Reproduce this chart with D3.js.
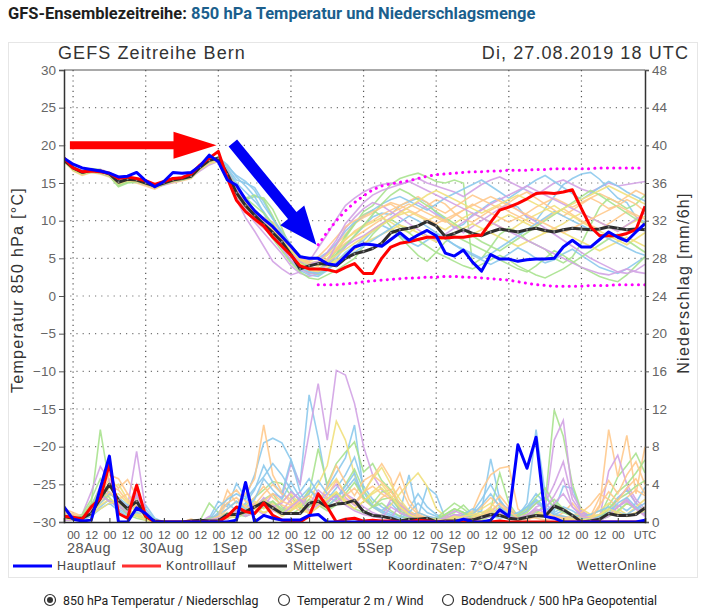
<!DOCTYPE html>
<html><head><meta charset="utf-8">
<script src="https://cdn.jsdelivr.net/npm/d3@7"></script>
<style>
body{margin:0;background:#fff;}
svg text{font-family:"Liberation Sans",Arial,sans-serif;}
</style>
</head><body>
<svg id="c" width="709" height="616"></svg>
<script>
// ---------------- DATA ----------------
const runStart = Date.UTC(2019,7,27,18); // 27.08.2019 18 UTC, 6-hourly steps
const tempTicks = [-30,-25,-20,-15,-10,-5,0,5,10,15,20,25,30];
const tempTickLabels = ["\u221230","\u221225","\u221220","\u221215","\u221210","\u22125","0","5","10","15","20","25","30"];
const precipTicks = [0,4,8,12,16,20,24,28,32,36,40,44,48];
const dateLabels = ["28Aug","30Aug","1Sep","3Sep","5Sep","7Sep","9Sep"];
const dateLabelDays = [[2019,7,28],[2019,7,30],[2019,8,1],[2019,8,3],[2019,8,5],[2019,8,7],[2019,8,9]];
const gridDays = [[2019,7,28],[2019,7,30],[2019,8,1],[2019,8,3],[2019,8,5],[2019,8,7],[2019,8,9],[2019,8,11]];

const tempMain = [18.3,17.5,17.0,16.8,16.6,16.3,15.8,15.9,16.4,15.3,
 14.5,15.2,16.4,16.3,16.4,17.3,18.7,17.8,15.4,14.7,
 12.8,11.3,10.2,9.2,7.9,6.6,5.2,5.0,5.0,4.3,
 4.1,5.3,6.5,6.9,6.8,6.6,7.5,8.4,7.4,8.1,
 8.7,8.0,5.7,5.3,6.1,4.5,3.3,5.5,4.9,4.9,
 4.6,4.8,4.9,4.9,5.0,6.5,7.4,6.5,6.5,7.5,
 8.5,7.8,7.3,8.5,9.6];
const tempCtrl = [18.3,17.0,16.5,16.6,16.5,16.3,15.6,15.8,15.6,15.3,
 14.8,15.2,15.6,15.7,16.2,17.4,18.3,19.2,15.6,12.7,
 11.2,10.2,9.3,7.8,6.6,5.4,4.0,3.6,3.6,3.5,
 3.2,3.8,4.3,3.0,3.0,5.0,6.5,7.0,7.2,7.5,
 7.8,7.8,7.7,7.8,7.8,8.0,8.1,9.8,11.4,11.8,
 12.3,12.9,13.6,13.7,13.6,13.8,14.1,11.6,9.2,8.0,
 8.0,8.0,8.3,8.8,11.9];
const tempMean = [18.0,17.0,16.4,16.7,16.6,16.2,15.1,15.5,15.4,15.0,
 14.6,15.0,15.4,15.6,15.9,17.1,18.0,18.3,16.2,13.7,
 12.0,10.7,9.5,8.4,7.2,5.5,3.6,4.0,4.3,4.2,
 4.0,5.0,5.6,5.9,6.3,7.0,8.4,8.8,9.0,9.3,
 9.9,9.3,7.9,8.3,8.8,8.3,8.0,8.5,8.9,8.7,
 8.5,8.8,9.0,8.7,8.5,8.8,9.0,8.9,8.8,8.9,
 9.2,9.0,8.8,8.9,8.8];

// climatological band (from step 28 on)
const bandStart = 28;
const bandUpper = [6.8,8.5,10.0,11.3,12.4,13.3,14.1,14.6,14.9,15.1,
 15.3,15.6,15.9,16.1,16.2,16.3,16.4,16.5,16.5,16.6,
 16.6,16.7,16.7,16.7,16.8,16.8,16.9,16.9,16.9,16.9,
 16.9,17.0,17.0,17.0,17.0,17.0,17.0];
const bandLower = [1.5,1.5,1.5,1.6,1.7,1.9,2.0,2.1,2.2,2.3,
 2.4,2.4,2.5,2.5,2.6,2.6,2.5,2.5,2.4,2.3,
 2.2,2.1,1.9,1.7,1.5,1.4,1.3,1.3,1.3,1.3,
 1.4,1.4,1.4,1.5,1.5,1.5,1.5];

const memberColors = ["#8cc9ec","#a9e28e","#ffc98c","#d1a2e4","#f1e07c"];

const tempMembers = [
 [18.2,17.2,16.6,16.5,16.4,16.0,15.3,15.6,15.2,14.8,14.8,15.2,15.6,15.8,16.2,17.4,18.2,18.0,
  17.0,15.4,15.0,14.4,12.5,10.3,8.6,6.8,5.2,4.0,3.5,4.2,5.0,
  6.5,8.0,9.2,10.5,11.0,10.8,12.0,12.5,13.0,12.4,11.0,10.2,9.0,9.5,10.8,11.5,12.4,13.0,12.2,11.8,10.4,10.0,11.6,13.2,14.8,15.6,16.2,16.4,15.5,14.2,13.0,12.4,10.5,9.8],
 [17.9,16.8,16.2,16.9,16.8,16.3,14.7,15.2,15.3,15.1,14.3,14.8,15.2,15.5,15.7,16.8,17.8,18.5,
  16.8,14.6,12.8,13.2,13.0,11.5,9.0,6.2,4.5,3.2,2.8,3.5,5.5,
  7.8,9.5,11.2,12.0,13.4,14.8,15.6,16.0,16.3,15.8,15.2,15.0,15.4,15.0,4.2,5.0,6.5,8.2,9.0,8.5,7.4,6.8,6.2,5.0,4.4,5.2,7.0,9.4,11.8,13.0,12.4,11.6,12.2,13.4],
 [18.0,16.6,16.0,16.4,16.2,15.8,14.8,15.2,15.0,14.6,14.2,14.8,15.0,15.3,15.6,16.8,17.6,18.0,
  15.8,13.0,11.2,10.0,9.0,8.0,6.8,5.4,4.2,3.8,4.4,5.6,6.8,
  8.2,9.6,10.4,11.0,11.8,12.2,11.4,10.6,11.2,12.0,12.8,12.2,11.0,10.2,9.8,10.6,11.4,12.0,11.2,10.6,10.0,9.4,10.2,11.0,11.6,10.8,10.0,9.4,8.8,9.6,10.4,11.2,10.6,9.4],
 [18.1,16.9,16.3,16.6,16.8,16.4,15.0,15.3,15.1,14.9,14.5,14.7,15.1,15.4,15.8,16.6,17.4,17.9,
  15.6,12.8,10.4,8.6,6.6,4.6,3.6,2.8,3.2,4.6,6.4,8.2,10.2,
  12.0,13.0,13.8,14.4,14.8,15.0,14.8,15.2,15.6,15.0,14.6,14.2,13.8,13.2,14.0,14.8,15.4,15.8,15.2,14.6,14.0,13.4,14.2,15.0,15.4,14.8,14.2,13.8,14.4,15.0,14.6,14.8,15.0,15.2],
 [17.8,16.7,16.1,16.5,16.5,16.0,14.9,15.4,15.5,15.2,14.7,15.1,15.3,15.5,15.8,17.0,17.8,18.2,
  16.0,13.4,11.6,10.4,9.4,8.2,7.0,5.8,4.6,3.6,3.4,4.0,4.8,
  5.6,6.4,7.8,8.8,9.6,10.2,10.8,11.2,10.6,10.0,9.4,8.8,9.6,10.4,11.0,10.4,9.8,9.2,8.6,9.4,10.2,10.8,11.4,12.0,11.2,10.6,9.8,9.2,8.6,8.0,7.4,6.8,7.6,8.4],
 [18.3,17.1,16.5,16.8,16.7,16.1,15.2,15.7,15.5,15.1,14.6,15.1,15.5,15.7,16.0,17.2,18.1,18.4,
  17.4,15.8,14.6,13.2,11.0,8.8,6.4,4.6,3.4,2.8,2.6,3.4,4.4,
  5.8,6.6,7.4,8.6,9.4,8.8,8.0,7.2,6.6,7.4,8.2,7.6,6.8,6.0,5.4,4.8,4.2,4.8,5.6,6.4,5.8,5.0,4.4,4.8,5.6,6.2,5.4,4.6,3.8,3.4,3.0,3.6,4.4,5.2],
 [18.0,16.9,16.3,16.5,16.3,15.9,14.5,15.0,15.1,14.8,14.4,14.9,15.2,15.4,15.7,16.9,17.8,18.1,
  16.4,14.0,13.0,13.4,12.8,10.6,8.0,5.6,3.8,3.0,3.2,4.4,6.0,
  8.0,9.6,10.8,11.4,10.6,9.2,7.8,6.6,5.4,4.6,5.8,7.2,8.0,7.4,6.8,6.2,5.6,4.8,4.2,3.6,3.2,4.0,5.0,6.0,5.4,4.6,3.8,3.2,2.6,2.2,1.9,2.8,4.0,5.2],
 [17.9,16.8,16.4,16.6,16.4,16.2,15.0,15.4,15.2,14.9,14.4,14.9,15.3,15.6,15.9,17.0,17.9,18.2,
  16.6,14.2,12.4,11.0,10.4,9.8,8.4,6.6,5.0,4.2,4.0,4.8,6.2,
  7.4,8.6,9.4,10.0,10.8,11.4,12.0,12.6,13.2,12.4,11.6,11.0,11.8,12.6,13.4,12.8,12.2,11.6,12.4,13.2,13.8,13.0,12.2,11.4,10.6,11.4,12.2,13.0,12.4,11.6,12.0,12.8,12.2,11.2],
 [18.2,17.0,16.5,16.7,16.6,16.1,15.1,15.5,15.3,14.8,14.5,15.0,15.4,15.7,16.0,17.1,17.9,18.2,
  16.0,13.2,11.4,9.8,8.4,7.0,5.6,4.0,3.0,2.6,3.0,4.2,5.4,
  6.6,7.4,8.0,8.8,9.6,10.4,11.2,11.8,12.4,11.6,10.8,10.0,9.2,8.4,9.2,10.0,10.8,11.6,12.2,11.4,10.6,9.8,9.0,8.2,7.4,6.6,5.8,5.0,4.4,3.8,3.2,3.0,3.4,4.2],
 [18.1,16.9,16.4,16.6,16.5,16.2,15.0,15.5,15.4,15.0,14.6,15.0,15.4,15.6,15.9,16.9,17.7,18.1,
  16.2,13.6,11.8,10.6,9.6,8.6,7.4,6.0,4.8,4.4,4.6,5.4,6.4,
  7.6,8.4,9.2,9.8,10.4,9.8,9.0,8.4,9.2,10.0,10.6,10.0,9.4,8.8,8.2,8.8,9.4,10.2,10.8,10.2,9.6,9.0,8.4,9.0,9.6,10.4,11.0,10.4,9.8,9.2,8.6,9.4,10.0,10.6],
 [18.4,17.2,16.6,16.7,16.6,16.2,15.2,15.6,15.3,14.9,14.5,15.0,15.5,15.8,16.1,17.3,18.2,18.3,
  17.2,16.0,15.2,14.0,12.0,10.2,8.4,6.6,5.4,4.8,5.0,5.8,7.0,
  8.6,9.8,10.6,11.4,12.2,12.8,13.2,12.6,12.0,11.4,12.2,13.0,13.6,14.2,14.8,15.4,14.6,13.8,13.0,13.8,14.6,15.4,16.0,15.2,14.4,13.6,12.8,13.6,14.4,15.2,14.6,13.8,13.2,12.6],
 [17.9,16.7,16.2,16.4,16.4,16.0,14.6,15.1,15.2,15.0,14.5,14.9,15.2,15.4,15.8,16.8,17.7,18.0,
  16.4,13.8,12.0,10.6,9.2,7.6,6.0,4.4,3.2,2.4,2.2,2.8,3.4,
  4.2,5.0,6.6,8.2,9.4,10.2,9.4,8.4,7.4,6.6,5.8,5.2,4.6,4.0,3.6,4.2,4.8,5.4,4.8,4.0,3.4,2.8,2.4,3.0,3.6,4.4,5.2,6.0,6.8,7.6,8.2,7.4,6.6,5.8],
 [18.1,16.8,16.3,16.5,16.6,16.1,14.9,15.3,15.3,14.9,14.5,15.0,15.3,15.5,15.8,16.9,17.8,18.1,
  16.2,13.6,12.0,10.8,9.8,8.8,7.6,6.4,5.2,4.4,4.2,5.0,6.0,
  7.0,7.8,8.6,9.4,10.2,11.0,11.6,12.2,11.6,11.0,10.4,9.8,10.6,11.4,12.2,11.6,11.0,10.4,9.8,10.4,11.0,11.8,12.4,13.0,12.4,11.8,12.4,13.0,13.6,13.0,12.4,13.2,14.0,13.4],
 [18.0,16.9,16.4,16.6,16.4,16.0,15.0,15.4,15.2,14.8,14.4,14.9,15.2,15.5,15.8,16.9,17.7,18.0,
  16.0,13.4,11.6,10.2,9.0,7.8,6.4,4.8,3.6,3.0,3.2,4.6,6.8,
  9.0,10.4,11.6,12.4,12.0,11.2,10.4,9.6,8.8,8.0,7.4,8.2,9.0,9.8,10.6,11.4,12.2,12.8,13.4,14.0,14.6,14.0,13.4,12.8,12.2,11.6,11.0,10.4,9.8,9.2,8.6,9.4,10.2,11.0],
 [18.0,16.8,16.2,16.6,16.5,16.1,15.0,15.4,15.3,14.9,14.5,15.0,15.3,15.5,15.8,17.0,17.8,18.1,
  16.2,13.8,12.2,11.0,9.8,8.6,7.2,5.6,4.2,3.4,3.2,3.8,4.6,
  5.4,6.2,7.0,7.6,8.2,8.8,9.4,9.0,8.4,7.8,7.2,7.8,8.4,9.0,9.6,9.0,8.4,7.8,7.2,6.6,7.2,7.8,8.4,9.0,8.4,7.8,7.2,6.6,6.0,6.6,7.2,7.8,7.2,6.6],
 [18.2,17.0,16.4,16.6,16.6,16.2,15.1,15.5,15.4,15.0,14.6,15.0,15.4,15.6,15.9,17.2,18.1,18.4,
  16.8,15.0,13.8,12.6,11.2,9.4,7.4,5.4,3.8,3.2,3.0,3.6,4.4,
  5.2,5.8,6.6,7.4,8.2,9.0,9.8,10.6,10.0,9.2,8.4,7.6,6.8,6.2,5.6,5.0,5.6,6.4,7.2,8.0,8.8,9.6,10.4,11.2,10.6,10.0,9.4,8.8,8.2,7.6,7.0,6.4,5.8,5.4],
 [18.0,16.8,16.3,16.7,16.7,16.3,14.8,15.2,15.2,14.9,14.4,14.8,15.2,15.5,15.8,16.9,17.8,18.3,
  16.6,14.4,13.0,12.0,11.0,9.6,7.8,6.0,4.6,3.8,3.6,4.4,5.6,
  6.8,8.0,9.4,10.8,12.2,13.4,14.2,13.6,12.8,12.0,11.2,10.4,9.6,8.8,8.0,7.2,6.6,6.0,6.8,7.6,8.4,9.2,10.0,10.8,11.6,12.4,13.2,14.0,13.4,12.6,11.8,11.0,10.2,9.6],
 [18.1,16.9,16.4,16.6,16.5,16.0,15.1,15.5,15.3,14.9,14.5,15.0,15.4,15.6,15.9,17.0,17.9,18.2,
  16.4,14.0,12.6,11.4,10.2,9.0,7.6,6.2,5.0,4.6,5.2,6.4,7.8,
  9.2,10.0,10.6,11.2,11.8,12.4,12.0,11.4,10.8,10.2,9.6,10.2,10.8,11.4,12.0,12.6,13.2,12.6,12.0,11.4,10.8,10.2,9.6,9.0,8.4,9.0,9.6,10.2,10.8,11.4,12.0,11.4,10.8,10.2],
 [18.2,17.0,16.5,16.8,16.7,16.3,15.2,15.6,15.4,15.0,14.6,15.1,15.4,15.6,16.0,17.1,18.0,18.2,
  16.6,14.2,12.6,11.2,9.8,8.4,7.0,5.6,4.6,4.2,4.6,5.8,7.4,
  9.6,11.0,12.4,13.4,14.0,14.4,14.8,15.2,14.6,14.0,13.4,12.8,12.2,11.6,11.0,10.4,9.8,9.2,8.6,8.0,7.4,6.8,6.2,5.6,5.0,4.4,3.8,3.4,3.0,2.8,3.2,3.6,3.2,3.0],
 [17.9,16.8,16.3,16.5,16.4,16.0,14.9,15.3,15.2,14.8,14.4,14.9,15.2,15.5,15.8,16.8,17.6,17.9,
  16.0,13.4,11.8,10.6,9.6,8.6,7.4,6.0,4.8,4.2,4.0,4.6,5.4,
  6.2,7.0,7.8,8.6,9.4,10.2,11.0,11.8,12.6,13.4,14.0,13.4,12.8,12.2,11.6,11.0,11.6,12.2,12.8,13.4,12.8,12.2,11.6,11.0,11.6,12.2,12.8,13.4,14.0,14.6,14.0,13.4,12.8,12.2]
];

const precipMain = [1.6,0.3,0.1,0.2,3.6,7.0,0,0,1.5,0.9,
 0,0,0,0,0,0,0,0,0,0.2,
 4.2,0,0.7,0.4,0.2,0.2,0.2,0.7,0.8,0,
 0,0,0,0,0,0,0,0,0,0,
 0,0,0,0,0.3,0,0,0.2,1.3,0.6,
 8.2,5.7,9.0,0.6,0.4,0,0,0,0,0,
 0,0,0,0,0.2];
const precipCtrl = [0.6,0.5,0.3,1.6,2.5,6.2,0.9,0.4,3.9,0.6,
 0,0,0,0,0,0,0,0,0.6,1.6,
 1.1,0.9,2.0,0.7,0.2,0,0,0.6,3.0,1.6,
 0,0.3,0.4,0.1,0.2,0.1,0.1,0,0,0.2,
 0.1,0,0,0,0,0,0,0,0.1,0,
 0,0,0,0,0,0,0,0,0,0,
 0,0,0,0,0];
const precipMean = [0.6,0.4,0.4,0.9,2.5,4.0,2.3,1.4,2.2,0.6,
 0.1,0,0,0,0.1,0.2,0.1,0.1,0.8,0.8,
 1.1,1.6,2.1,1.5,0.9,0.9,0.9,2.0,2.2,1.6,
 1.9,2.0,2.3,1.1,0.7,0.6,0.4,0.1,0.3,0.3,
 0.4,0,0.1,0.1,0.2,0.2,0.5,0.8,0.7,0.4,
 0.3,0.5,0.7,0.6,1.7,1.3,0.7,0,0.1,0.3,
 0.9,0.7,0.7,0.8,1.5];

const precipMembers = [
 [1.2,0.6,0.4,1.0,2.4,3.2,2.0,1.2,1.8,1.8, 0.4,0,0,0,0,0,0.4,2.2,1.6,4.1, 2.6,5.0,8.4,8.9,8.4,6.6,4.0,13.5,8.9,3.6, 5.2,6.8,10.3,3.2,1.6,1.2,2.0,1.0,5.0,0.6, 3.7,2.9,0.4,0.2,0.2,0.6,1.2,6.7,2.4,1.0, 0.6,2.0,9.8,3.0,1.2,3.8,3.6,1.0,0.4,0.6, 1.0,1.8,1.2,2.0,3.7],
 [0.8,0.4,0.6,2.0,9.8,4.0,2.2,1.4,2.6,0.8, 0.2,0,0,0,0,0.2,2.0,1.0,0.6,1.2, 1.8,2.6,3.4,4.3,4.1,2.8,1.4,3.0,7.8,4.0, 6.2,7.4,8.5,5.3,6.2,4.4,3.4,2.0,1.0,0.6, 0.4,0.2,0.6,1.0,1.8,0.8,0.6,1.4,5.2,2.0, 0.6,0.4,0.8,2.0,11.9,9.1,4.0,1.2,0.4,0.6, 2.6,4.8,6.0,7.3,5.2],
 [1.4,1.0,0.6,1.8,3.0,4.6,3.6,4.5,2.8,0.6, 0.2,0,0,0,0.3,0,0.2,0.6,3.4,2.0, 3.0,4.6,10.3,5.0,3.2,2.0,1.6,3.4,2.8,2.0, 3.0,2.4,1.8,3.0,4.8,6.2,4.6,0.9,0.6,0.4, 0.2,0,0.2,0.4,0.6,1.2,3.4,5.0,5.7,5.9, 1.4,0.6,0.4,0.2,0.4,1.0,2.0,0.8,0.2,1.6, 9.8,4.8,9.2,3.0,8.0],
 [0.6,0.4,0.8,3.2,5.9,4.4,2.2,1.6,7.5,1.2, 0,0,0,0,0,0,0.6,0.4,1.0,0.8, 1.2,2.0,1.6,3.0,2.6,6.2,4.0,9.4,14.7,8.7, 16.1,15.6,12.6,8.0,5.0,3.4,2.6,2.0,1.2,0.6, 0.4,0.2,0.2,0.6,1.0,0.8,0.4,1.0,2.0,1.4, 0.6,1.2,2.0,1.4,8.7,10.8,3.0,1.2,0.6,0.4, 5.4,7.1,4.0,2.4,1.4],
 [0.8,0.6,0.4,1.2,2.6,3.6,4.0,2.4,1.6,0.6, 0,0,0,0,0,0,0,0.4,0.8,1.4, 1.0,1.8,2.4,1.6,2.2,3.0,1.8,2.4,4.0,6.0, 10.7,8.7,5.0,2.4,1.6,1.0,1.8,3.0,4.2,5.2, 3.8,1.4,0.6,0.4,0.2,0.4,0.6,1.0,0.8,0.6, 0.4,0.8,1.2,0.6,0.4,0.2,0.6,1.4,0.8,0.4, 0.6,1.0,2.0,1.4,0.8],
 [1.0,0.8,0.2,0.8,1.6,2.4,1.4,0.8,1.2,1.0, 0.2,0,0,0,0,0,0.2,1.0,2.0,1.2, 2.0,3.4,6.0,4.2,3.0,6.6,3.2,4.6,3.0,2.4, 3.6,5.0,6.9,3.8,2.4,1.6,1.0,0.6,1.4,3.0, 1.6,0.8,0.4,0.2,0.6,1.0,2.4,4.0,2.2,1.2, 0.8,1.6,3.0,2.0,1.0,1.6,1.2,0.6,0.4,0.8, 1.4,2.6,3.4,2.0,1.2],
 [0.6,0.4,0.8,2.4,4.6,3.0,2.4,1.0,0.6,0.4, 0,0,0,0,0,0,0,0.4,1.0,0.6, 1.4,1.0,2.4,3.0,1.6,1.2,2.0,3.4,2.6,1.8, 2.4,4.0,5.6,3.4,2.0,3.2,3.4,1.6,0.8,0.4, 0.2,0.4,1.2,2.0,1.4,0.6,0.4,0.8,1.6,1.2, 0.8,1.4,2.6,3.6,2.0,1.4,0.8,0.4,0.2,0.6, 1.8,3.2,4.0,5.2,6.6],
 [1.2,0.8,0.6,1.4,3.4,5.0,4.6,3.0,2.0,0.8, 0.2,0,0,0,0,0,0.2,0.8,2.6,3.4, 2.2,1.8,3.0,4.0,3.0,2.4,1.6,1.2,2.0,3.8, 6.0,4.2,2.8,4.4,5.0,4.2,3.2,5.2,2.4,1.0, 0.6,0.4,0.2,0.2,0.4,0.6,0.8,1.6,2.8,1.6, 0.6,0.4,0.8,1.2,0.8,0.6,0.4,0.8,0.6,2.6, 4.4,3.0,5.0,6.4,4.0],
 [0.4,0.2,0.6,1.6,3.8,3.0,2.6,1.4,4.0,1.0, 0,0,0,0,0,0,0.4,0.6,0.4,1.6, 0.8,1.4,2.6,1.8,1.2,2.4,3.2,1.6,2.4,3.0, 4.0,2.6,1.8,1.2,0.8,0.6,2.4,1.4,0.8,0.4, 0.4,0.2,0.6,1.2,0.8,0.4,0.6,0.8,1.4,0.8, 0.4,0.6,1.6,2.0,4.0,6.4,2.4,1.0,0.6,0.4, 1.0,2.4,3.6,2.0,1.0],
 [0.6,0.4,0.6,1.0,2.0,2.8,3.0,2.0,1.0,0.4, 0,0,0,0,0,0,0,0.2,0.6,1.0, 1.6,2.2,1.4,2.0,1.0,1.8,2.6,1.2,2.2,3.4, 4.6,3.0,2.0,3.2,4.6,5.8,4.0,2.4,1.2,0.6, 0.4,0.2,0.4,0.6,0.8,1.0,1.4,2.0,1.2,0.6, 0.4,0.6,0.8,1.0,0.6,0.4,0.2,0.4,0.8,1.2, 2.0,1.4,0.8,1.6,2.4],
 [0.8,0.4,0.4,1.2,2.0,3.0,2.6,1.8,1.4,1.4, 0.2,0,0,0,0,0,0.2,1.6,2.4,3.0, 2.4,3.6,4.8,6.2,5.0,3.4,2.2,3.0,4.4,3.0, 2.6,3.4,4.6,2.6,1.8,1.2,0.8,0.4,0.6,1.0, 0.6,0.4,0.2,0.4,0.8,1.4,1.0,0.6,0.4,0.6, 1.0,1.6,2.2,1.4,0.8,0.6,0.4,0.6,0.8,1.2, 1.6,1.0,0.8,1.4,2.0],
 [0.4,0.2,0.6,1.8,3.6,2.6,1.6,1.2,0.8,0.4, 0,0,0,0,0,0,0.4,0.6,0.4,0.8, 0.6,1.0,1.6,2.2,1.4,1.0,0.8,1.6,2.4,2.0, 3.0,2.2,1.4,1.0,1.6,2.0,1.2,0.6,0.4,0.2, 0.2,0.4,0.8,1.4,1.0,0.6,0.4,0.6,0.8,0.6, 0.4,0.6,1.0,1.6,2.4,1.4,0.8,0.6,0.4,0.2, 0.6,1.2,2.0,1.4,0.8],
 [1.0,0.8,0.4,1.0,2.2,3.2,2.4,3.0,1.6,0.8, 0,0,0,0,0,0,0,0.4,1.4,2.2, 1.6,2.6,3.8,2.6,1.8,1.4,2.2,2.8,2.0,1.4, 2.0,2.8,3.6,2.4,1.6,2.6,3.2,2.0,1.0,0.6, 0.4,0.2,0.2,0.4,0.6,0.8,1.6,2.6,1.8,1.0, 0.6,0.4,0.6,0.8,0.6,0.4,0.6,1.0,1.8,3.0, 2.4,1.6,2.6,3.4,2.8],
 [0.6,0.4,0.4,1.4,3.0,2.2,1.6,1.0,2.8,0.8, 0,0,0,0,0,0,0.2,0.4,0.8,0.6, 1.0,1.4,0.8,1.6,2.0,3.2,2.4,1.8,3.4,2.6, 2.2,3.0,2.4,1.6,1.0,0.6,0.4,1.8,1.0,0.4, 0.2,0.2,0.4,0.8,0.6,0.4,0.4,0.6,1.0,0.6, 0.4,0.8,1.4,1.0,2.0,3.0,1.6,0.8,0.4,0.4, 0.8,1.6,2.2,1.4,0.8],
 [0.4,0.4,0.6,0.8,1.8,2.4,2.0,1.4,0.8,0.4, 0,0,0,0,0,0,0,0.2,0.4,0.8, 1.2,1.6,1.0,1.4,0.8,1.2,1.8,1.0,1.6,2.4, 3.2,2.2,1.4,2.2,3.0,3.6,2.6,1.6,0.8,0.4, 0.2,0.2,0.4,0.6,0.4,0.6,0.8,1.2,0.8,0.4, 0.2,0.4,0.6,0.8,0.4,0.2,0.2,0.4,0.6,0.8, 1.2,0.8,0.6,1.0,1.6],
 [0.6,0.6,0.2,0.6,1.4,2.0,1.2,0.6,1.0,0.8, 0,0,0,0,0,0,0.2,0.8,1.4,2.2, 1.4,2.4,4.6,3.4,2.4,4.2,2.6,3.6,2.2,1.6, 2.6,3.8,5.2,2.6,1.6,1.0,0.6,0.4,1.0,2.0, 1.0,0.6,0.2,0.2,0.4,0.8,1.8,3.0,1.6,0.8, 0.6,1.2,2.4,1.6,0.8,1.2,0.8,0.4,0.2,0.6, 1.0,2.0,2.6,1.6,1.0],
 [0.4,0.4,0.6,1.6,3.2,2.2,1.8,0.8,0.4,0.2, 0,0,0,0,0,0,0,0.2,0.8,0.4, 1.0,0.8,1.8,2.2,1.2,0.8,1.4,2.4,1.8,1.2, 1.8,3.0,4.2,2.6,1.6,2.4,2.6,1.2,0.6,0.2, 0.2,0.2,0.8,1.4,1.0,0.4,0.2,0.6,1.2,0.8, 0.6,1.0,2.0,2.6,1.6,1.0,0.6,0.2,0.2,0.4, 1.4,2.4,3.0,3.8,4.4],
 [1.0,0.6,0.4,1.2,2.6,3.8,3.4,2.2,1.4,0.6, 0,0,0,0,0,0,0.2,0.6,2.0,2.6, 1.6,1.4,2.2,3.0,2.2,1.8,1.2,1.0,1.6,2.8, 4.4,3.0,2.0,3.2,3.8,3.0,2.4,3.8,1.8,0.8, 0.4,0.2,0.2,0.2,0.2,0.4,0.6,1.2,2.0,1.2, 0.4,0.2,0.6,0.8,0.6,0.4,0.2,0.6,0.4,1.8, 3.2,2.2,3.6,4.6,3.0],
 [0.2,0.2,0.4,1.2,2.8,2.2,1.8,1.0,3.0,0.6, 0,0,0,0,0,0,0.2,0.4,0.2,1.2, 0.6,1.0,1.8,1.2,0.8,1.6,2.4,1.2,1.8,2.2, 2.8,1.8,1.2,0.8,0.6,0.4,1.6,1.0,0.6,0.2, 0.2,0.2,0.4,0.8,0.6,0.2,0.4,0.6,1.0,0.6, 0.2,0.4,1.2,1.4,2.8,4.6,1.6,0.6,0.4,0.2, 0.6,1.6,2.4,1.4,0.6],
 [0.4,0.2,0.4,0.8,1.4,2.0,2.2,1.4,0.6,0.2, 0,0,0,0,0,0,0,0.2,0.4,0.6, 1.0,1.4,1.0,1.4,0.6,1.2,1.8,0.8,1.6,2.4, 3.2,2.0,1.4,2.2,3.2,4.0,2.8,1.6,0.8,0.4, 0.2,0.2,0.2,0.4,0.6,0.8,1.0,1.4,0.8,0.4, 0.2,0.4,0.6,0.6,0.4,0.2,0.4,0.2,0.4,0.8, 1.4,1.0,0.6,0.8,1.2]
];

// annotation arrows (in data coordinates: [step index, °C])
const arrowRed = [[0.65,20.0],[16.8,20.0]];
const arrowBlue = [[18.6,20.3],[27.8,6.8]];

// ---------------- CHART ----------------
const svg = d3.select("#c");
const L = 64, R = 645, T = 70, B = 522;
const stepMs = 6*3600*1000;
const times = tempMain.map((d,i)=> new Date(runStart + i*stepMs));
const tAt = k => new Date(runStart + k*stepMs);
const x = d3.scaleUtc().domain([times[0], times[times.length-1]]).range([L,R]);
const yT = d3.scaleLinear().domain([-30,30]).range([B,T]);
const yP = d3.scaleLinear().domain([0,48]).range([B,T]);

// page title
const title = svg.append("text").attr("x",8).attr("y",19).style("font-family","Roboto, sans-serif").style("font-size","16.5px").style("font-weight","700");
title.append("tspan").attr("fill","#1e1e1e").text("GFS-Ensemblezeitreihe:");
title.append("tspan").attr("fill","#1b5f8d").text(" 850 hPa Temperatur und Niederschlagsmenge");

// image frame
svg.append("rect").attr("x",8.5).attr("y",42.5).attr("width",689).attr("height",535).attr("fill","#fff").attr("stroke","#e6e6e6");

svg.append("text").attr("x",58).attr("y",58.5).attr("fill","#333").style("font-size","18px").style("letter-spacing","1.1px").text("GEFS Zeitreihe Bern");
svg.append("text").attr("x",689).attr("y",58.5).attr("text-anchor","end").attr("fill","#333").style("font-size","18px").style("letter-spacing","1.1px").text("Di, 27.08.2019 18 UTC");

// grid
const g = svg.append("g");
g.selectAll(".hg").data(tempTicks.filter(v=>v>-30 && v<30)).join("line")
 .attr("x1",L).attr("x2",R).attr("y1",d=>yT(d)).attr("y2",d=>yT(d))
 .attr("stroke","#777").attr("stroke-width",1.2).attr("stroke-dasharray","1.2,5");
g.selectAll(".vg").data(gridDays).join("line")
 .attr("x1",d=>x(new Date(Date.UTC(d[0],d[1],d[2])))).attr("x2",d=>x(new Date(Date.UTC(d[0],d[1],d[2]))))
 .attr("y1",T).attr("y2",B)
 .attr("stroke","#555").attr("stroke-width",1.2).attr("stroke-dasharray","1.2,4");

// clip
svg.append("clipPath").attr("id","pc").append("rect").attr("x",L).attr("y",T-2).attr("width",R-L).attr("height",B-T+3);
const plot = svg.append("g").attr("clip-path","url(#pc)");

const lineT = d3.line().x((d,i)=>x(times[i])).y(d=>yT(d));
const lineP = d3.line().x((d,i)=>x(times[i])).y(d=>yP(d));

// ensemble members
precipMembers.forEach((m,k)=>{
 plot.append("path").attr("d",lineP(m)).attr("fill","none").attr("stroke",memberColors[k%5]).attr("stroke-width",1.6).attr("opacity",0.9);
});
tempMembers.forEach((m,k)=>{
 plot.append("path").attr("d",lineT(m)).attr("fill","none").attr("stroke",memberColors[k%5]).attr("stroke-width",1.6).attr("opacity",0.9);
});

// climatological band
const lineBand = d3.line().x((d,i)=>x(tAt(bandStart+i))).y(d=>yT(d));
[bandUpper, bandLower].forEach(b=>{
 plot.append("path").attr("d",lineBand(b)).attr("fill","none").attr("stroke","#ff00ff")
  .attr("stroke-width",3).attr("stroke-linecap","round").attr("stroke-dasharray","0.1,6.2");
});

// mean / control / main
function mainLines(arrs, line, yS){
 const [mean, ctrl, mainR] = arrs;
 plot.append("path").attr("d",line(mean)).attr("fill","none").attr("stroke","#2e2e2e").attr("stroke-width",3).attr("stroke-linejoin","round");
 plot.append("g").selectAll("circle").data(mean).join("circle").attr("cx",(d,i)=>x(times[i])).attr("cy",d=>yS(d)).attr("r",1).attr("fill","#8a8a8a");
 plot.append("path").attr("d",line(ctrl)).attr("fill","none").attr("stroke","#ff0000").attr("stroke-width",3).attr("stroke-linejoin","round");
 plot.append("path").attr("d",line(mainR)).attr("fill","none").attr("stroke","#0000ff").attr("stroke-width",3).attr("stroke-linejoin","round");
}
mainLines([precipMean, precipCtrl, precipMain], lineP, yP);
mainLines([tempMean, tempCtrl, tempMain], lineT, yT);

// arrows
function arrowPoly(a, sw, hw, hl){
 const p0=[x(tAt(a[0][0])), yT(a[0][1])], p1=[x(tAt(a[1][0])), yT(a[1][1])];
 const dx=p1[0]-p0[0], dy=p1[1]-p0[1], len=Math.hypot(dx,dy), ux=dx/len, uy=dy/len, nx=-uy, ny=ux;
 const b=[p1[0]-ux*hl, p1[1]-uy*hl];
 const P=(p,s)=>[p[0]+nx*s, p[1]+ny*s];
 return [P(p0,sw/2),P(b,sw/2),P(b,hw/2),p1,P(b,-hw/2),P(b,-sw/2),P(p0,-sw/2)].map(p=>p.join(",")).join(" ");
}
svg.append("polygon").attr("points",arrowPoly(arrowRed,8,27,43)).attr("fill","#ff0000");
svg.append("polygon").attr("points",arrowPoly(arrowBlue,11,31,38)).attr("fill","#0000f5");

// axes frame
svg.append("line").attr("x1",L).attr("x2",R).attr("y1",T).attr("y2",T).attr("stroke","#555").attr("stroke-width",1);
const axL = d3.axisLeft(yT).tickValues(tempTicks).tickFormat((d,i)=>tempTickLabels[i]).tickSize(5).tickPadding(3);
const gl = svg.append("g").attr("transform",`translate(${L},0)`).call(axL);
const axR = d3.axisRight(yP).tickValues(precipTicks).tickSize(4).tickPadding(3);
const gr = svg.append("g").attr("transform",`translate(${R},0)`).call(axR);
[gl,gr].forEach(a=>{
 a.select(".domain").attr("stroke","#333").attr("stroke-width",1.5);
 a.selectAll(".tick line").attr("stroke","#555");
 a.selectAll(".tick text").attr("fill","#666").style("font-size","13.5px").style("font-family","Liberation Sans, Arial, sans-serif");
});

// bottom axis
const hourTicks = d3.utcHour.every(12).range(new Date(Date.UTC(2019,7,28,0)), new Date(Date.UTC(2019,8,12,1)));
const gb = svg.append("g").attr("transform",`translate(0,${B})`)
 .call(d3.axisBottom(x).tickValues(hourTicks).tickFormat(d3.utcFormat("%H")).tickSize(-4).tickPadding(9));
gb.select(".domain").attr("stroke","#222").attr("stroke-width",1.5);
gb.selectAll(".tick line").attr("stroke","#333");
gb.selectAll(".tick text").attr("fill","#555").style("font-size","11.5px").style("font-family","Liberation Sans, Arial, sans-serif");
svg.append("text").attr("x",R).attr("y",B+17).attr("text-anchor","middle").attr("fill","#555").style("font-size","11px").text("UTC");

svg.selectAll(".dl").data(dateLabels).join("text")
 .attr("x",(d,i)=>x(new Date(Date.UTC(...dateLabelDays[i])))-6).attr("y",553)
 .attr("fill","#555").style("font-size","14.5px").style("letter-spacing","0.4px").text(d=>d);

// axis titles
svg.append("text").attr("transform","translate(23,290) rotate(-90)").attr("text-anchor","middle").attr("fill","#333")
 .style("font-size","16px").style("letter-spacing","1.3px").text("Temperatur 850 hPa [°C]");
svg.append("text").attr("transform","translate(689,283) rotate(-90)").attr("text-anchor","middle").attr("fill","#333")
 .style("font-size","16px").style("letter-spacing","1.3px").text("Niederschlag [mm/6h]");

// legend
const legItems = [
 {c:"#0000ff", x1:13, x2:52, tx:57, t:"Hauptlauf"},
 {c:"#ff3030", x1:122, x2:161, tx:166, t:"Kontrolllauf"},
 {c:"#333", x1:248, x2:287, tx:293, t:"Mittelwert"}
];
const lg = svg.append("g");
legItems.forEach(d=>{
 lg.append("line").attr("x1",d.x1).attr("x2",d.x2).attr("y1",566).attr("y2",566).attr("stroke",d.c).attr("stroke-width",3);
 lg.append("text").attr("x",d.tx).attr("y",569.5).attr("fill","#444").style("font-size","12.5px").style("letter-spacing","0.6px").text(d.t);
});
lg.append("text").attr("x",388).attr("y",569.5).attr("fill","#444").style("font-size","12.5px").style("letter-spacing","0.6px").text("Koordinaten: 7°O/47°N");
lg.append("text").attr("x",577).attr("y",569.5).attr("fill","#444").style("font-size","12.5px").style("letter-spacing","0.6px").text("WetterOnline");

// radio buttons
const radios = [
 {cx:50, tx:63, t:"850 hPa Temperatur / Niederschlag", on:true},
 {cx:284, tx:297, t:"Temperatur 2 m / Wind", on:false},
 {cx:448, tx:461, t:"Bodendruck / 500 hPa Geopotential", on:false}
];
radios.forEach(r=>{
 svg.append("circle").attr("cx",r.cx).attr("cy",600).attr("r",5.5).attr("fill","#fff").attr("stroke","#333").attr("stroke-width",1.2);
 if(r.on) svg.append("circle").attr("cx",r.cx).attr("cy",600).attr("r",3).attr("fill","#333");
 svg.append("text").attr("x",r.tx).attr("y",604.5).attr("fill","#222").style("font-family","Roboto, sans-serif").style("font-size","12.4px").text(r.t);
});
</script>
</body></html>
